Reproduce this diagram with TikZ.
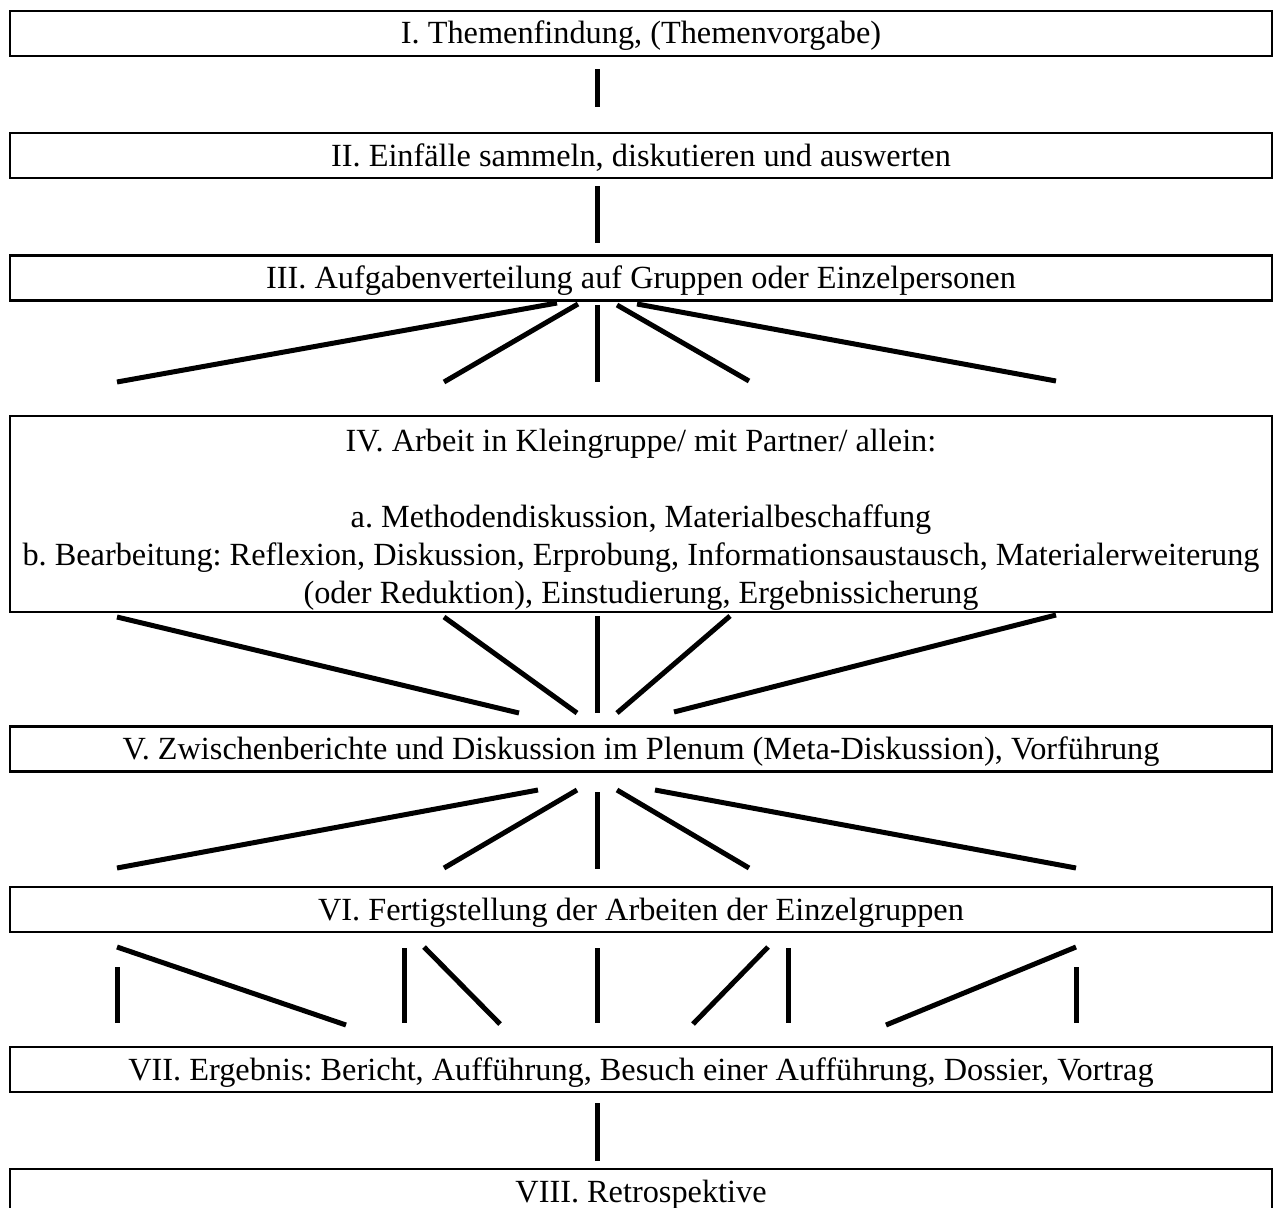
\documentclass[tikz,border=0pt]{standalone}
\usepackage{fontspec}
\setmainfont{Liberation Serif}
\frenchspacing
\tikzset{
  stagebox/.style={draw, line width=2.2pt, inner sep=0pt, minimum width=1262pt,
    text height=33pt, text depth=12pt, font=\fontsize{32.3}{38}\selectfont\frenchspacing},
  bigbox/.style={draw, line width=2.2pt, inner sep=0pt, minimum width=1262pt,
    minimum height=196pt, text width=1262pt, align=flush center,
    font=\fontsize{32.3}{38}\selectfont\frenchspacing},
  link/.style={line width=5pt}
}
\begin{document}
\begin{tikzpicture}[x=1pt,y=-1pt]
\path[use as bounding box, clip] (0,0) rectangle (1273,1207);
\fill[white] (0,0) rectangle (1273,1207);
% boxes
\node[stagebox] (I)   at (641,33.5)   {I. Themenfindung, (Themenvorgabe)};
\node[stagebox] (II)  at (641,155.5)  {II. Einfälle sammeln, diskutieren und auswerten};
\node[stagebox] (III) at (641,278)    {III. Aufgabenverteilung auf Gruppen oder Einzelpersonen};
\node[bigbox]   (IV)  at (641,514)    {\rule{0pt}{34pt}IV. Arbeit in Kleingruppe/ mit Partner/ allein:\\ ~\\
  a. Methodendiskussion, Materialbeschaffung\\
  b. Bearbeitung: Reflexion, Diskussion, Erprobung, Informationsaustausch, Materialerweiterung\\
  (oder Reduktion), Einstudierung, Ergebnissicherung};
\node[stagebox] (V)   at (641,749)    {V. Zwischenberichte und Diskussion im Plenum (Meta-Diskussion), Vorführung};
\node[stagebox] (VI)  at (641,909.5)  {VI. Fertigstellung der Arbeiten der Einzelgruppen};
\node[stagebox] (VII) at (641,1069.5) {VII. Ergebnis: Bericht, Aufführung, Besuch einer Aufführung, Dossier, Vortrag};
\node[stagebox] (VIII) at (641,1191.5) {VIII. Retrospektive};
% I -> II, II -> III
\coordinate (a1) at (597,69);  \coordinate (a2) at (597,107);
\coordinate (b1) at (597,186); \coordinate (b2) at (597,243);
\draw[link] (a1) -- (a2);
\draw[link] (b1) -- (b2);
% III -> IV fan
\coordinate (c1t) at (557,303); \coordinate (c1b) at (117,382);
\coordinate (c2t) at (578,304); \coordinate (c2b) at (444,382);
\coordinate (c3t) at (597,305); \coordinate (c3b) at (597,382);
\coordinate (c4t) at (617,305); \coordinate (c4b) at (749,381);
\coordinate (c5t) at (637,304); \coordinate (c5b) at (1056,381);
\foreach \i in {1,...,5} \draw[link] (c\i t) -- (c\i b);
% IV -> V fan
\coordinate (d1t) at (117,617);  \coordinate (d1b) at (519,713);
\coordinate (d2t) at (444,617);  \coordinate (d2b) at (577,713);
\coordinate (d3t) at (597,616);  \coordinate (d3b) at (597,713);
\coordinate (d4t) at (730,616);  \coordinate (d4b) at (617,713);
\coordinate (d5t) at (1056,615); \coordinate (d5b) at (674,712);
\foreach \i in {1,...,5} \draw[link] (d\i t) -- (d\i b);
% V -> VI fan
\coordinate (e1t) at (538,790); \coordinate (e1b) at (117,868);
\coordinate (e2t) at (577,790); \coordinate (e2b) at (444,868);
\coordinate (e3t) at (597,792); \coordinate (e3b) at (597,869);
\coordinate (e4t) at (617,790); \coordinate (e4b) at (749,868);
\coordinate (e5t) at (655,790); \coordinate (e5b) at (1076,868);
\foreach \i in {1,...,5} \draw[link] (e\i t) -- (e\i b);
% VI -> VII
\coordinate (f1t) at (117,967);  \coordinate (f1b) at (117,1023);
\coordinate (f2t) at (117,947);  \coordinate (f2b) at (346,1025);
\coordinate (f3t) at (404,948);  \coordinate (f3b) at (404,1023);
\coordinate (f4t) at (424,947);  \coordinate (f4b) at (500,1024);
\coordinate (f5t) at (597,948);  \coordinate (f5b) at (597,1023);
\coordinate (f6t) at (768,947);  \coordinate (f6b) at (693,1024);
\coordinate (f7t) at (788,948);  \coordinate (f7b) at (788,1023);
\coordinate (f8t) at (1076,947); \coordinate (f8b) at (886,1025);
\coordinate (f9t) at (1076,967); \coordinate (f9b) at (1076,1023);
\foreach \i in {1,...,9} \draw[link] (f\i t) -- (f\i b);
% VII -> VIII
\coordinate (g1) at (597,1103); \coordinate (g2) at (597,1161);
\draw[link] (g1) -- (g2);
\end{tikzpicture}
\end{document}
